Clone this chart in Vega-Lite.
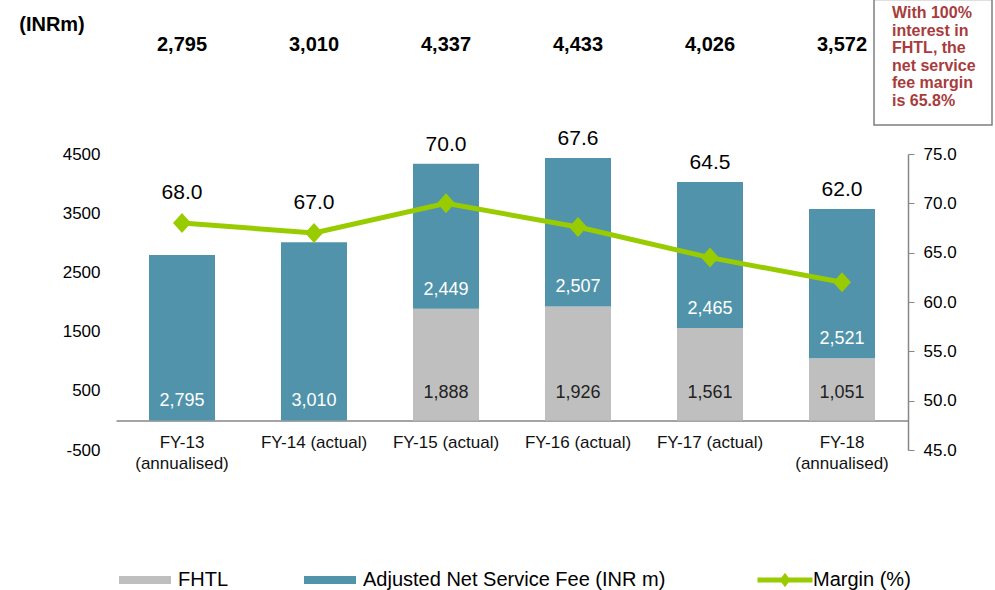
{
  "$schema": "https://vega.github.io/schema/vega-lite/v6.json",
  "width": 792,
  "height": 296,
  "autosize": "none",
  "padding": {"left": 116, "top": 154, "right": 87, "bottom": 140},
  "config": {
    "view": {"stroke": null},
    "font": "Liberation Sans",
    "axis": {"labelFont": "Liberation Sans", "grid": false},
    "legend": {"labelFont": "Liberation Sans", "labelFontSize": 20, "labelColor": "#000000", "labelLimit": 400},
    "text": {"font": "Liberation Sans"}
  },
  "data": {
    "values": [
      {"fy": "FY-13 (annualised)", "fhtl": 0, "adj": 2795, "total": 2795, "margin": 68.0},
      {"fy": "FY-14 (actual)", "fhtl": 0, "adj": 3010, "total": 3010, "margin": 67.0},
      {"fy": "FY-15 (actual)", "fhtl": 1888, "adj": 2449, "total": 4337, "margin": 70.0},
      {"fy": "FY-16 (actual)", "fhtl": 1926, "adj": 2507, "total": 4433, "margin": 67.6},
      {"fy": "FY-17 (actual)", "fhtl": 1561, "adj": 2465, "total": 4026, "margin": 64.5},
      {"fy": "FY-18 (annualised)", "fhtl": 1051, "adj": 2521, "total": 3572, "margin": 62.0}
    ]
  },
  "encoding": {
    "x": {
      "field": "fy",
      "type": "nominal",
      "sort": null,
      "title": null,
      "scale": {"paddingInner": 0.5, "paddingOuter": 0.25},
      "axis": {
        "orient": "bottom",
        "offset": -29.6,
        "labelAngle": 0,
        "ticks": false,
        "domainColor": "#868686",
        "domainWidth": 1.5,
        "labelFontSize": 17,
        "labelColor": "#111111",
        "labelPadding": 14,
        "labelLineHeight": 21,
        "labelExpr": "indexof(datum.label, 'annualised') >= 0 ? split(datum.label, ' ') : datum.label"
      }
    }
  },
  "layer": [
    {
      "layer": [
        {
          "mark": {"type": "bar"},
          "encoding": {
            "y": {
              "field": "fhtl",
              "type": "quantitative",
              "title": null,
              "scale": {"domain": [-500, 4500], "nice": false, "zero": false},
              "axis": {
                "values": [-500, 500, 1500, 2500, 3500, 4500],
                "labelExpr": "toString(datum.value)",
                "domain": false,
                "ticks": false,
                "labelFontSize": 17,
                "labelColor": "#000000",
                "labelPadding": 16
              }
            },
            "y2": {"datum": 0},
            "color": {
              "datum": "FHTL",
              "type": "nominal",
              "scale": {"domain": ["FHTL", "Adjusted Net Service Fee (INR m)"], "range": ["#BFBFBF", "#5093AB"]},
              "legend": {
                "orient": "none",
                "legendX": 3,
                "legendY": 400,
                "direction": "horizontal",
                "title": null,
                "padding": 0,
                "symbolType": "M-1,-0.155H1V0.155H-1Z",
                "symbolSize": 2704,
                "symbolStrokeWidth": 0,
                "symbolOpacity": 1,
                "labelOffset": 7,
                "columnPadding": 76
              }
            }
          }
        },
        {
          "mark": {"type": "bar"},
          "encoding": {
            "y": {"field": "total", "type": "quantitative", "title": null},
            "y2": {"field": "fhtl"},
            "color": {"datum": "Adjusted Net Service Fee (INR m)", "type": "nominal"}
          }
        },
        {
          "transform": [{"filter": "datum.fhtl > 0"}],
          "mark": {"type": "text", "fontSize": 18, "color": "#222222", "baseline": "middle", "dy": -27.4},
          "encoding": {
            "y": {"datum": 0, "type": "quantitative"},
            "text": {"field": "fhtl", "type": "quantitative", "format": ","}
          }
        },
        {
          "mark": {"type": "text", "fontSize": 18, "color": "#FFFFFF", "baseline": "middle", "dy": -19},
          "encoding": {
            "y": {"field": "fhtl", "type": "quantitative", "title": null},
            "text": {"field": "adj", "type": "quantitative", "format": ","}
          }
        },
        {
          "mark": {"type": "text", "fontSize": 20, "fontWeight": "bold", "color": "#000000", "baseline": "middle"},
          "encoding": {
            "y": {"datum": 6340, "type": "quantitative"},
            "text": {"field": "total", "type": "quantitative", "format": ","}
          }
        },
        {
          "transform": [{"filter": "datum.fhtl > 0"}],
          "mark": {"type": "text", "fontSize": 21, "color": "#000000", "baseline": "middle", "dy": -19},
          "encoding": {
            "y": {"field": "total", "type": "quantitative", "title": null},
            "text": {"field": "margin", "type": "quantitative", "format": ".1f"}
          }
        },
        {
          "data": {"values": [{"label": "(INRm)"}]},
          "mark": {"type": "text", "fontSize": 20, "fontWeight": "bold", "color": "#000000", "baseline": "middle", "dx": -130},
          "encoding": {
            "x": {"datum": "FY-13 (annualised)"},
            "y": {"datum": 6679, "type": "quantitative"},
            "text": {"field": "label"}
          }
        },
        {
          "data": {"values": [{"note": "box"}]},
          "mark": {"type": "bar", "width": 118, "xOffset": 91, "fill": "#FFFFFF", "stroke": "#7F7F7F", "strokeWidth": 1.5},
          "encoding": {
            "x": {"datum": "FY-18 (annualised)"},
            "y": {"datum": 7110, "type": "quantitative"},
            "y2": {"datum": 4990}
          }
        },
        {
          "data": {"values": [{"note": "box"}]},
          "mark": {
            "type": "text",
            "text": ["With 100%", "interest in", "FHTL, the", "net service", "fee margin", "is 65.8%"],
            "fontSize": 16,
            "fontWeight": "bold",
            "color": "#A83C3C",
            "align": "left",
            "baseline": "top",
            "lineHeight": 17.5,
            "dx": 50
          },
          "encoding": {
            "x": {"datum": "FY-18 (annualised)"},
            "y": {"datum": 7010, "type": "quantitative"}
          }
        }
      ]
    },
    {
      "layer": [
        {
          "mark": {"type": "line", "strokeWidth": 5},
          "encoding": {
            "y": {
              "field": "margin",
              "type": "quantitative",
              "title": null,
              "scale": {"domain": [45, 75], "nice": false, "zero": false},
              "axis": {
                "orient": "right",
                "values": [45, 50, 55, 60, 65, 70, 75],
                "format": ".1f",
                "domainColor": "#868686",
                "domainWidth": 1.5,
                "tickColor": "#868686",
                "tickSize": 6,
                "labelFontSize": 17,
                "labelColor": "#000000",
                "labelPadding": 9
              }
            },
            "stroke": {
              "datum": "Margin (%)",
              "type": "nominal",
              "scale": {"range": ["#99CC00"]},
              "legend": {
                "orient": "none",
                "legendX": 639,
                "legendY": 396,
                "title": null,
                "padding": 0,
                "symbolType": "M-1,0H1M-0.08,0L0,-0.11L0.08,0L0,0.11Z",
                "symbolSize": 3025,
                "symbolStrokeWidth": 5,
                "symbolFillColor": "#99CC00",
                "symbolStrokeColor": "#99CC00",
                "labelOffset": -2
              }
            }
          }
        },
        {
          "mark": {"type": "point", "shape": "M-0.9,0L0,-1L0.9,0L0,1Z", "size": 400, "filled": true, "color": "#99CC00", "opacity": 1},
          "encoding": {
            "y": {"field": "margin", "type": "quantitative", "title": null}
          }
        },
        {
          "transform": [{"filter": "datum.fhtl == 0"}],
          "mark": {"type": "text", "fontSize": 21, "color": "#000000", "baseline": "middle", "dy": -30},
          "encoding": {
            "y": {"field": "margin", "type": "quantitative", "title": null},
            "text": {"field": "margin", "type": "quantitative", "format": ".1f"}
          }
        }
      ]
    }
  ],
  "resolve": {"scale": {"y": "independent"}}
}
